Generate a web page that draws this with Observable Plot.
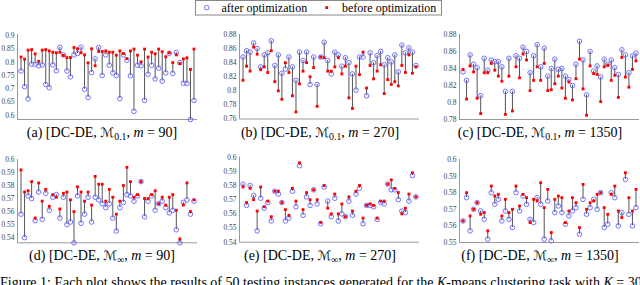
<!DOCTYPE html>
<html><head><meta charset="utf-8">
<script src="https://cdn.jsdelivr.net/npm/d3@7"></script>
<script src="https://cdn.jsdelivr.net/npm/@observablehq/plot@0.6"></script>
<style>
html,body{margin:0;padding:0;background:#fff;}
#root{position:relative;width:640px;height:285px;overflow:hidden;font-family:"Liberation Serif","Times New Roman",serif;color:#000;}
.panel{position:absolute;}
.cap{position:absolute;font-size:14px;line-height:16px;white-space:nowrap;transform:translateX(-50%);}
.cap sub{font-size:70%;line-height:0;vertical-align:-0.3em;}
.cap .M{font-family:"DejaVu Serif","DejaVu Sans",serif;font-size:13px;font-style:italic;}
#legend{position:absolute;left:195px;top:0;}
#figcap{position:absolute;left:0;top:274.5px;font-size:14px;line-height:16px;white-space:nowrap;}
</style>
</head><body>
<div id="root"></div>
<script>
// ---------- data ----------
const runs = d3.range(1, 51);

const aAfter  = [0.767,0.708,0.662,0.793,0.793,0.787,0.790,0.716,0.704,0.790,
                 0.768,0.856,0.828,0.767,0.745,0.828,0.833,0.857,0.698,0.667,
                 0.761,0.813,0.856,0.750,0.828,0.789,0.760,0.750,0.663,0.828,
                 0.808,0.749,0.615,0.789,0.787,0.656,0.755,0.789,0.737,0.778,
                 0.729,0.760,0.834,0.758,0.837,0.799,0.721,0.720,0.584,0.656];
const aBefore = [0.820,0.812,0.846,0.848,0.832,0.804,0.846,0.848,0.843,0.838,
                 0.836,0.838,0.826,0.818,0.818,0.856,0.851,0.836,0.828,0.798,
                 0.851,0.787,0.841,0.841,0.843,0.838,0.838,0.827,0.843,0.833,
                 0.814,0.843,0.850,0.827,0.802,0.850,0.820,0.838,0.832,0.850,
                 0.840,0.821,0.836,0.799,0.828,0.795,0.813,0.817,0.773,0.850];

const bAfter  = [0.848,0.857,0.855,0.868,0.860,0.834,0.851,0.854,0.871,0.836,
                 0.851,0.825,0.831,0.848,0.834,0.815,0.855,0.843,0.855,0.809,
                 0.848,0.809,0.848,0.869,0.843,0.824,0.855,0.851,0.835,0.847,
                 0.840,0.824,0.801,0.848,0.848,0.793,0.854,0.840,0.850,0.856,
                 0.837,0.847,0.841,0.851,0.827,0.865,0.854,0.861,0.855,0.836];
const bBefore = [0.815,0.835,0.828,0.862,0.852,0.830,0.834,0.826,0.857,0.813,
                 0.800,0.788,0.840,0.826,0.793,0.770,0.810,0.828,0.840,0.820,
                 0.833,0.778,0.848,0.847,0.828,0.828,0.834,0.847,0.824,0.835,
                 0.790,0.775,0.835,0.823,0.855,0.804,0.836,0.817,0.828,0.837,
                 0.796,0.816,0.809,0.813,0.807,0.836,0.826,0.851,0.825,0.834];

const cAfter  = [0.836,0.826,0.856,0.845,0.841,0.808,0.852,0.838,0.850,0.848,
                 0.848,0.842,0.813,0.852,0.813,0.855,0.852,0.865,0.860,0.835,
                 0.855,0.868,0.842,0.864,0.831,0.840,0.851,0.839,0.840,0.831,
                 0.827,0.820,0.845,0.872,0.850,0.809,0.860,0.837,0.843,0.830,
                 0.851,0.845,0.850,0.841,0.833,0.862,0.856,0.835,0.855,0.858];
const cBefore = [0.839,0.804,0.843,0.836,0.805,0.787,0.835,0.835,0.846,0.838,
                 0.831,0.825,0.786,0.831,0.790,0.842,0.829,0.857,0.850,0.814,
                 0.826,0.842,0.826,0.846,0.814,0.815,0.822,0.831,0.817,0.805,
                 0.824,0.803,0.828,0.851,0.816,0.785,0.843,0.834,0.833,0.801,
                 0.842,0.844,0.826,0.832,0.806,0.853,0.830,0.818,0.839,0.849];

const dAfter  = [0.558,0.540,0.572,0.570,0.553,0.575,0.554,0.574,0.561,0.571,
                 0.573,0.555,0.571,0.550,0.552,0.536,0.572,0.551,0.558,0.571,
                 0.552,0.571,0.569,0.566,0.563,0.566,0.555,0.545,0.563,0.567,
                 0.573,0.572,0.568,0.572,0.583,0.556,0.568,0.572,0.561,0.566,
                 0.568,0.563,0.559,0.561,0.546,0.536,0.567,0.569,0.558,0.568];
const dBefore = [0.592,0.575,0.576,0.583,0.555,0.582,0.568,0.577,0.564,0.573,
                 0.571,0.562,0.574,0.575,0.569,0.560,0.579,0.575,0.568,0.575,
                 0.565,0.587,0.581,0.581,0.568,0.577,0.571,0.558,0.568,0.580,
                 0.594,0.583,0.571,0.573,0.583,0.570,0.570,0.573,0.576,0.566,
                 0.571,0.565,0.571,0.573,0.561,0.539,0.565,0.582,0.560,0.569];

const eAfter  = [0.581,0.566,0.580,0.573,0.548,0.571,0.564,0.568,0.555,0.576,
                 0.574,0.568,0.555,0.557,0.576,0.565,0.594,0.559,0.572,0.566,
                 0.577,0.567,0.553,0.579,0.569,0.558,0.571,0.555,0.560,0.558,
                 0.569,0.559,0.574,0.578,0.553,0.566,0.566,0.565,0.556,0.568,
                 0.567,0.581,0.577,0.577,0.570,0.562,0.561,0.569,0.587,0.572];
const eBefore = [0.579,0.568,0.578,0.570,0.562,0.579,0.565,0.569,0.558,0.576,
                 0.576,0.568,0.563,0.559,0.578,0.569,0.596,0.563,0.575,0.570,
                 0.577,0.570,0.554,0.580,0.564,0.560,0.574,0.560,0.567,0.558,
                 0.572,0.562,0.576,0.580,0.557,0.566,0.567,0.566,0.557,0.569,
                 0.569,0.581,0.584,0.578,0.575,0.560,0.564,0.574,0.589,0.572];

const fAfter  = [0.563,0.577,0.557,0.570,0.574,0.569,0.564,0.552,0.580,0.573,
                 0.576,0.563,0.569,0.564,0.559,0.580,0.569,0.578,0.573,0.564,
                 0.562,0.577,0.573,0.552,0.575,0.551,0.568,0.572,0.568,0.561,
                 0.566,0.569,0.571,0.555,0.576,0.567,0.571,0.576,0.570,0.580,
                 0.559,0.561,0.580,0.577,0.560,0.568,0.588,0.567,0.560,0.571];
const fBefore = [0.563,0.580,0.566,0.570,0.574,0.567,0.568,0.557,0.584,0.578,
                 0.579,0.566,0.576,0.568,0.570,0.584,0.572,0.579,0.577,0.562,
                 0.576,0.575,0.586,0.571,0.582,0.556,0.576,0.578,0.577,0.562,
                 0.569,0.577,0.574,0.559,0.585,0.570,0.574,0.575,0.579,0.580,
                 0.571,0.567,0.579,0.584,0.569,0.565,0.592,0.577,0.569,0.582];

const ticksA = [0.6,0.65,0.7,0.75,0.8,0.85,0.9];
const ticksB = [0.76,0.78,0.8,0.82,0.84,0.86,0.88];
const ticksC = [0.78,0.8,0.82,0.84,0.86,0.88];
const ticksD = [0.54,0.55,0.56,0.57,0.58,0.59,0.6];
const ticksE = [0.54,0.55,0.56,0.57,0.58,0.59,0.6];
const ticksF = [0.55,0.56,0.57,0.58,0.59,0.6];

const captions = [
  ["a","0.1","90"],["b","0.1","270"],["c","0.1","1350"],
  ["d","∞","90"],["e","∞","270"],["f","∞","1350"]
];
const legendLabels = ["after optimization","before optimization"];

// ---------- layout ----------
const panels = [
  {after:aAfter, before:aBefore, domain:[0.584,0.905], ticks:ticksA, axisX:17,    top:34,    bottom:119,   rowTop:20},
  {after:bAfter, before:bBefore, domain:[0.76,0.88],   ticks:ticksB, axisX:238.5, top:34,    bottom:118.5, rowTop:20},
  {after:cAfter, before:cBefore, domain:[0.78,0.88],   ticks:ticksC, axisX:459,   top:34,    bottom:119,   rowTop:20},
  {after:dAfter, before:dBefore, domain:[0.536,0.6],   ticks:ticksD, axisX:17,    top:159,   bottom:242.3, rowTop:145},
  {after:eAfter, before:eBefore, domain:[0.54,0.6],    ticks:ticksE, axisX:238.5, top:156.7, bottom:241.7, rowTop:145},
  {after:fAfter, before:fBefore, domain:[0.55,0.6],    ticks:ticksF, axisX:459,   top:159,   bottom:242,   rowTop:145}
];
const capX = [102, 320, 540];
const capTop = [124.5, 247.8];

const root = document.getElementById("root");
const mL = 26, plotW = 180, mR = 4, mB = 4;

panels.forEach((p, k) => {
  const data = runs.map((i, j) => ({i, after: p.after[j], before: p.before[j]}));
  const mT = p.top - p.rowTop;
  const h = p.bottom - p.rowTop + mB;
  const chart = Plot.plot({
    width: mL + plotW + mR,
    height: h,
    marginLeft: mL, marginRight: mR, marginTop: mT, marginBottom: mB,
    x: {domain: [0, 51], axis: null},
    y: {domain: p.domain, ticks: p.ticks, tickSize: 0, tickPadding: 3,
        tickFormat: d => String(+d.toFixed(3)), label: null},
    style: {fontFamily: "Liberation Serif, serif", fontSize: "7.5px", color: "#444", background: "transparent", overflow: "visible"},
    marks: [
      Plot.ruleX([0], {stroke: "#999", strokeWidth: 1}),
      Plot.ruleY([p.domain[0]], {stroke: "#999", strokeWidth: 1}),
      Plot.ruleX(data, {x: "i", y1: "after", y2: "before", stroke: "#555", strokeWidth: 1}),
      Plot.dot(data, {x: "i", y: "after", r: 2.3, stroke: "#6464ff", fill: "none", strokeWidth: 0.9}),
      Plot.dot(data, {x: "i", y: "before", symbol: "square", r: 1.6, fill: "#ff0000", stroke: "none"})
    ]
  });
  chart.classList.add("panel");
  chart.style.left = (p.axisX - mL) + "px";
  chart.style.top = p.rowTop + "px";
  root.appendChild(chart);

  const c = captions[k];
  const cap = document.createElement("div");
  cap.className = "cap";
  cap.style.left = capX[k % 3] + "px";
  cap.style.top = capTop[Math.floor(k / 3)] + "px";
  cap.innerHTML = `(${c[0]}) [DC-DE, <span class="M">ℳ</span><sub>${c[1]}</sub>, <i>m</i> = ${c[2]}]`;
  root.appendChild(cap);
});

// legend
const leg = document.createElement("div");
leg.id = "legend";
leg.innerHTML = `<svg width="248" height="17" style="font-family:'Liberation Serif',serif;font-size:12px">
  <rect x="0.5" y="0.5" width="246" height="14.5" fill="#fff" stroke="#888" stroke-width="1"/>
  <circle cx="11.7" cy="7.6" r="2.3" fill="none" stroke="#6464ff" stroke-width="0.9"/>
  <text x="26.5" y="11.8">${legendLabels[0]}</text>
  <rect x="130.3" y="6.2" width="2.8" height="2.8" fill="#ff0000"/>
  <text x="147" y="11.8">${legendLabels[1]}</text>
</svg>`;
root.appendChild(leg);

// figure caption (cut off at the bottom edge)
const fc = document.createElement("div");
fc.id = "figcap";
fc.innerHTML = `Figure 1: Each plot shows the results of 50 testing instances generated for the <i>K</i>-means clustering task with <i>K</i> = 30`;
root.appendChild(fc);
</script>
</body></html>
